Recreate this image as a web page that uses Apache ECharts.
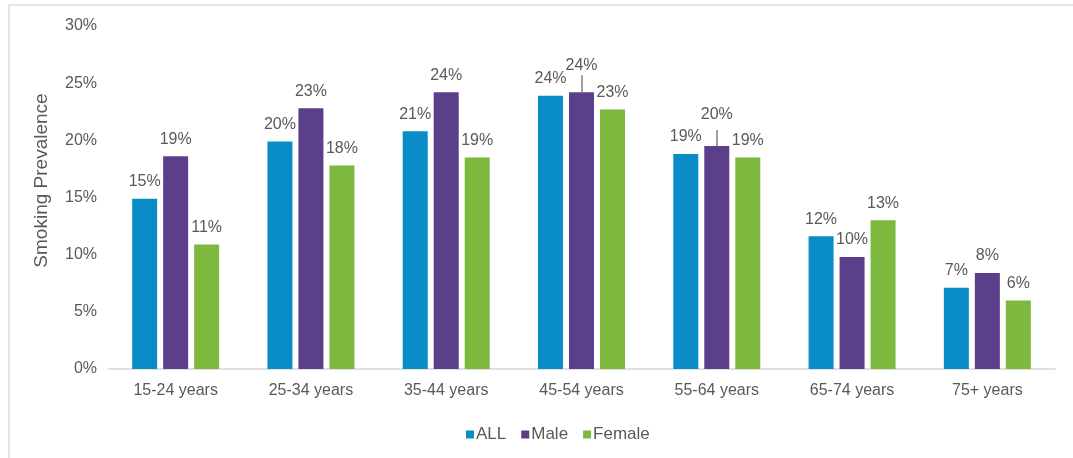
<!DOCTYPE html>
<html>
<head>
<meta charset="utf-8">
<script src="https://cdn.jsdelivr.net/npm/echarts@6/dist/echarts.min.js"></script>
<style>
  html, body { margin: 0; padding: 0; background: #fff; }
  #frame { position: absolute; left: 8px; top: 4px; width: 1065px; height: 454px;
           border-top: 2px solid #e4e4e4; border-left: 2px solid #e4e4e4; box-sizing: border-box; }
  #my_chart { position: absolute; left: 0; top: 0; width: 1073px; height: 458px; }
</style>
</head>
<body>
<div id="frame"></div>
<div id="my_chart"></div>
<script>
  var categories = ['15-24 years', '25-34 years', '35-44 years', '45-54 years', '55-64 years', '65-74 years', '75+ years'];
  var allValues = [14.9, 19.9, 20.8, 23.9, 18.8, 11.6, 7.1];
  var maleValues = [18.6, 22.8, 24.2, 24.2, 19.5, 9.8, 8.4];
  var femaleValues = [10.9, 17.8, 18.5, 22.7, 18.5, 13.0, 6.0];
  // leader lines on the male bars whose labels got pushed up: [category, from, to, label shift px]
  var maleLeaders = [[3, 24.2, 25.7, -10], [4, 19.5, 20.9, -14]];

  var textColor = '#595959';
  var font = 'Liberation Sans, Arial, sans-serif';

  function labelFmt(p) { return Math.round(p.value) + '%'; }

  var maleData = maleValues.map(function (v, i) {
    var item = { value: v };
    maleLeaders.forEach(function (l) {
      if (l[0] === i) item.label = { offset: [0, l[3]] };
    });
    return item;
  });

  var my_chart = echarts.init(document.getElementById('my_chart'));

  var barLabel = { show: true, position: 'top', distance: 9, color: textColor, fontSize: 16, fontFamily: font, formatter: labelFmt };

  my_chart.setOption({
    animation: false,
    grid: { left: 108, right: 18, top: 26, bottom: 89, outerBoundsMode: 'none' },
    legend: {
      top: 421,
      left: 461,
      itemWidth: 8, itemHeight: 8, itemGap: 15,
      icon: 'rect',
      textStyle: { color: textColor, fontSize: 17, fontFamily: font, padding: [0, 0, 0, -3] },
      data: ['ALL', 'Male', 'Female']
    },
    xAxis: {
      type: 'category',
      data: categories,
      axisLine: { lineStyle: { color: '#d6d6d6', width: 1.5 } },
      axisTick: { show: false },
      axisLabel: { color: textColor, fontSize: 16, fontFamily: font, margin: 14 }
    },
    yAxis: {
      type: 'value',
      min: 0, max: 30, interval: 5,
      name: 'Smoking Prevalence',
      nameLocation: 'middle',
      nameGap: 57,
      nameTextStyle: { color: textColor, fontSize: 19, fontFamily: font, padding: [0, 0, 0, 34] },
      axisLine: { show: false },
      axisTick: { show: false },
      splitLine: { show: false },
      axisLabel: { color: textColor, fontSize: 16, fontFamily: font, margin: 11, formatter: '{value}%' }
    },
    series: [{
      name: 'ALL', type: 'bar', data: allValues,
      barWidth: 25, barGap: '24%',
      itemStyle: { color: '#0a8dc6' },
      label: barLabel
    }, {
      name: 'Male', type: 'bar', data: maleData,
      barWidth: 25, barGap: '24%',
      itemStyle: { color: '#5b3f8b' },
      label: barLabel,
      markLine: {
        silent: true, symbol: 'none',
        label: { show: false },
        lineStyle: { color: '#7f7f7f', type: 'solid', width: 1.5 },
        data: maleLeaders.map(function (l) {
          return [{ coord: [l[0], l[1]] }, { coord: [l[0], l[2]] }];
        })
      }
    }, {
      name: 'Female', type: 'bar', data: femaleValues,
      barWidth: 25, barGap: '24%',
      itemStyle: { color: '#7db83f' },
      label: barLabel
    }]
  });
</script>
</body>
</html>
